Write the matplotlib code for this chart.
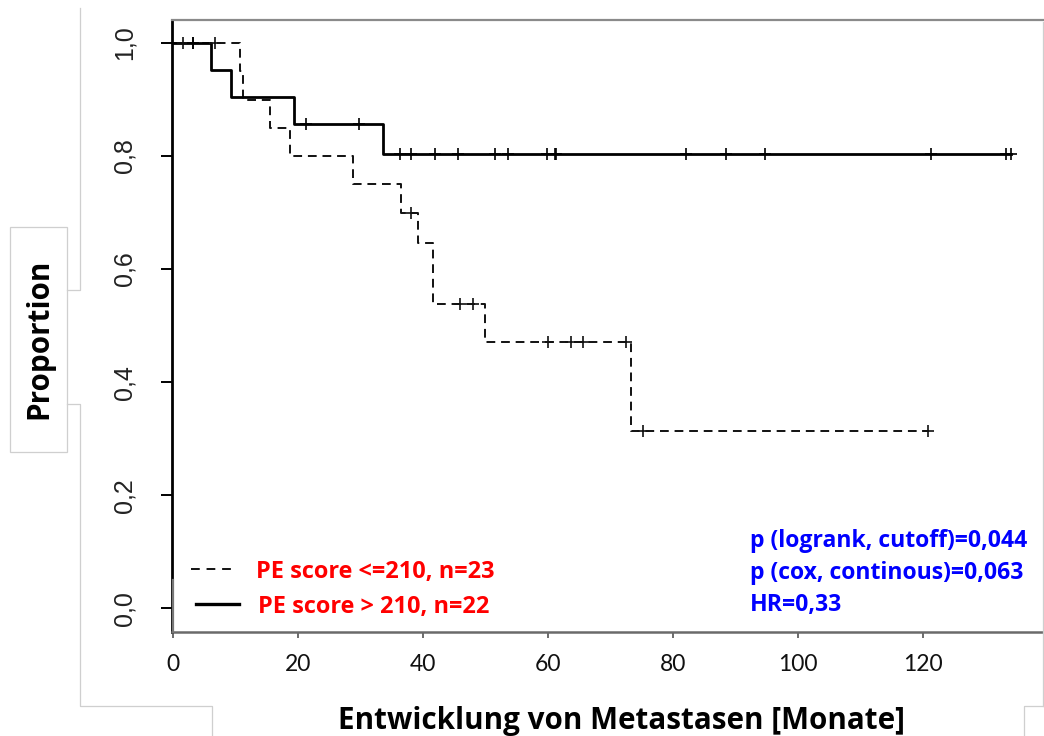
import numpy as np
import matplotlib
matplotlib.use("Agg")
import matplotlib.pyplot as plt
from matplotlib.lines import Line2D
from matplotlib.patches import Rectangle

# Kaplan-Meier steps: PE score > 210 (n=22)
hi_step_t = [0, 6.1, 9.3, 19.4, 33.6]
hi_step_s = [1.0, 0.952, 0.905, 0.857, 0.804]
hi_end = 134.1
hi_cens_t = [3.3, 21.4, 29.8, 36.4, 38.1, 42.0, 45.7, 51.6, 53.6, 59.9,
             61.1, 61.4, 82.1, 88.5, 94.7, 121.3, 133.3, 134.1]

# Kaplan-Meier steps: PE score <= 210 (n=23)
lo_step_t = [0, 10.8, 11.3, 15.6, 18.7, 28.9, 36.5, 39.3, 41.7, 49.9, 73.4]
lo_step_s = [1.0, 0.95, 0.90, 0.85, 0.80, 0.75, 0.70, 0.646, 0.538, 0.471, 0.314]
lo_end = 120.8
lo_cens_t = [1.7, 3.3, 6.7, 38.1, 45.9, 48.0, 60.0, 63.7, 65.6, 72.6, 75.3, 120.8]

x_ticks = [0, 20, 40, 60, 80, 100, 120]
y_ticks = [0.0, 0.2, 0.4, 0.6, 0.8, 1.0]
y_tick_labels = ["0,0", "0,2", "0,4", "0,6", "0,8", "1,0"]

legend_labels = ["PE score <=210, n=23", "PE score > 210, n=22"]
stats_lines = ["p (logrank, cutoff)=0,044", "p (cox, continous)=0,063", "HR=0,33"]

W, H = 1044, 736
fig = plt.figure(figsize=(W / 100, H / 100), dpi=100)
fig.patch.set_facecolor("white")


def fx(px):
    return px / W


def fy(py):
    return 1 - py / H


ax = fig.add_axes([fx(171.7), fy(632), fx(1044) - fx(171.7), fy(20) - fy(632)])
ax.set_xlim(-0.15, 139.4)
ax.set_ylim(-0.042, 1.0407)


def step_value(t_steps, s_steps, t):
    idx = np.searchsorted(np.asarray(t_steps), np.asarray(t), side="right") - 1
    return np.asarray(s_steps)[idx]


# dashed curve (<=210)
ax.step(list(lo_step_t) + [lo_end], list(lo_step_s) + [lo_step_s[-1]],
        where="post", color="#111111", lw=1.4, ls=(0, (4.5, 3)), zorder=3)
ax.plot(lo_cens_t, step_value(lo_step_t, lo_step_s, lo_cens_t), ls="none",
        marker="+", ms=8, mew=1.2, color="#111111", zorder=4)

# solid curve (>210)
ax.step(list(hi_step_t) + [hi_end], list(hi_step_s) + [hi_step_s[-1]],
        where="post", color="black", lw=2.0, zorder=3)
ax.plot(hi_cens_t, step_value(hi_step_t, hi_step_s, hi_cens_t), ls="none",
        marker="+", ms=8, mew=1.2, color="black", zorder=4)

# spines
ax.spines["right"].set_visible(False)
ax.spines["left"].set_color("black")
ax.spines["left"].set_linewidth(2.0)
ax.spines["top"].set_color("#8a8a8a")
ax.spines["top"].set_linewidth(1.6)
ax.spines["bottom"].set_color("#6a6a6a")
ax.spines["bottom"].set_linewidth(1.8)

# ticks
ax.set_xticks(x_ticks)
ax.set_xticklabels([str(v) for v in x_ticks], fontfamily="Lato", fontsize=16.5,
                   color="#111111")
ax.tick_params(axis="x", direction="out", length=4.5, width=1.4, color="#6a6a6a",
               pad=11)
ax.set_yticks(y_ticks)
ax.set_yticklabels(y_tick_labels, rotation=90, va="center",
                   fontfamily="Liberation Sans", fontsize=18, color="#222222")
ax.tick_params(axis="y", direction="out", length=8, width=1.4, color="black", pad=17)

# lower end of the left axis line in grey
fig.add_artist(Line2D([fx(172.5), fx(172.5)], [fy(580), fy(632)],
                      color="#777777", lw=1.6))

# axis titles
fig.text(fx(39), fy(339), "Proportion", rotation=90, ha="center", va="center",
         fontfamily="Open Sans", fontweight="bold", fontsize=21.3, color="black")
fig.text(fx(621), fy(729), "Entwicklung von Metastasen [Monate]", ha="center",
         va="baseline", fontfamily="Open Sans", fontweight="bold", fontsize=21.3,
         color="black")

# legend
fig.add_artist(Line2D([fx(191), fx(237)], [fy(569), fy(569)], color="#111111",
                      lw=1.4, ls=(0, (4.5, 3.5))))
fig.add_artist(Line2D([fx(196), fx(239)], [fy(604), fy(604)], color="black",
                      lw=2.4))
fig.text(fx(256), fy(577.7), legend_labels[0], ha="left", va="baseline",
         fontfamily="Open Sans", fontweight="bold", fontsize=16.9, color="#ff0000")
fig.text(fx(258), fy(612.7), legend_labels[1], ha="left", va="baseline",
         fontfamily="Open Sans", fontweight="bold", fontsize=16.9, color="#ff0000")

# statistics
for i, line in enumerate(stats_lines):
    fig.text(fx(750), fy(546.7 + 32 * i), line, ha="left", va="baseline",
             fontfamily="Open Sans", fontweight="bold", fontsize=16.6,
             color="#0000ff")

# surrounding text-box frames
grey = "#cfcfcf"
fig.add_artist(Rectangle((fx(10), fy(452)), fx(67) - fx(10), fy(227) - fy(452),
                         fill=False, ec=grey, lw=0.9))
frame_paths = [
    ([80, 80, 67], [8, 290, 290]),
    ([67, 80, 80, 212, 212], [404, 404, 706, 706, 736]),
    ([1024, 1024, 1044], [736, 706, 706]),
    ([1043, 1043], [22, 706]),
]
for xs, ys in frame_paths:
    fig.add_artist(Line2D([fx(v) for v in xs], [fy(v) for v in ys], color=grey,
                          lw=0.9))

fig.savefig("out.png", dpi=100, facecolor="white")
